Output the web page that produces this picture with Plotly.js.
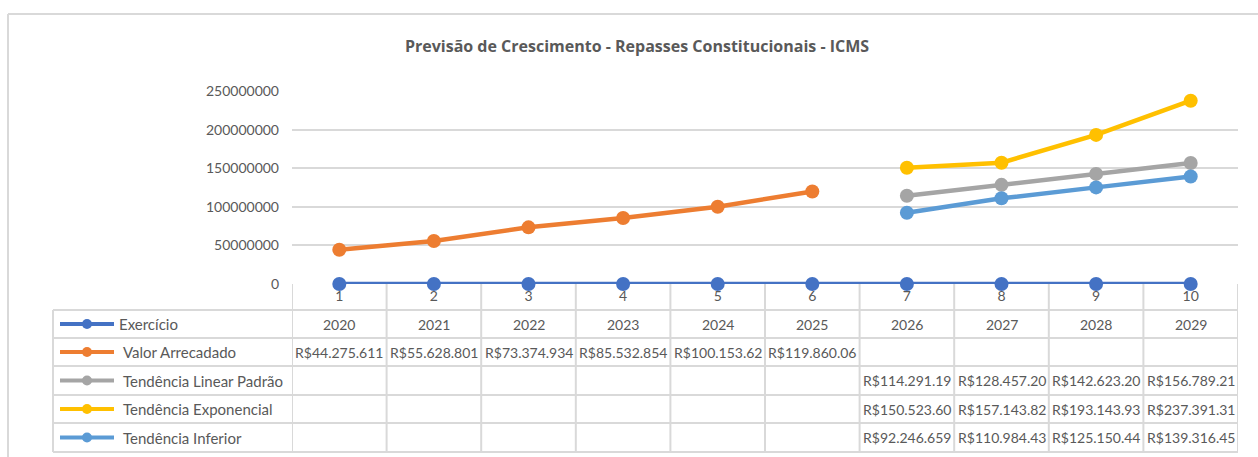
<!DOCTYPE html>
<html>
<head>
<meta charset="utf-8">
<script src="https://cdn.plot.ly/plotly-3.0.1.min.js"></script>
<style>html,body{margin:0;padding:0;background:#fff;}#chart{width:1258px;height:457px;}</style>
</head>
<body>
<div id="chart"></div>
<script>
// ---- data ----
const categories = [1, 2, 3, 4, 5, 6, 7, 8, 9, 10];
const exercicio = [2020, 2021, 2022, 2023, 2024, 2025, 2026, 2027, 2028, 2029];
const valorArrecadado = [44275611, 55628801, 73374934, 85532854, 100153620, 119860060, null, null, null, null];
const tendenciaLinear = [null, null, null, null, null, null, 114291190, 128457200, 142623200, 156789210];
const tendenciaExponencial = [null, null, null, null, null, null, 150523600, 157143820, 193143930, 237391310];
const tendenciaInferior = [null, null, null, null, null, null, 92246659, 110984430, 125150440, 139316450];
const seriesNames = ['Exercício', 'Valor Arrecadado', 'Tendência Linear Padrão', 'Tendência Exponencial', 'Tendência Inferior'];
const yTicks = [0, 50000000, 100000000, 150000000, 200000000, 250000000];
const titleText = 'Previsão de Crescimento - Repasses Constitucionais - ICMS';

// ---- styling ----
const colors = ['#4472C4', '#ED7D31', '#A5A5A5', '#FFC000', '#5B9BD5'];
const seriesData = [exercicio, valorArrecadado, tendenciaLinear, tendenciaExponencial, tendenciaInferior];
const FONT = 'Lato, "Open Sans", sans-serif';
const TXT = '#595959';
const GRID = '#D9D9D9';

const W = 1258, H = 457;
const PL = 292, PR = 1238, PT = 91, PB = 284;
const px2x = px => (px - PL) / (PR - PL);
const py2y = py => (PB - py) / (PB - PT);

function fmtCell(v, isYear) {
  if (v === null || v === undefined) return '';
  if (isYear) return String(v);
  const s = 'R$' + Math.round(v).toString().replace(/\B(?=(\d{3})+(?!\d))/g, '.');
  return s.slice(0, 12);
}

const traces = seriesData.map((d, i) => ({
  type: 'scatter', mode: 'lines+markers',
  x: categories, y: d, name: seriesNames[i],
  line: {color: colors[i], width: 4.5},
  marker: {color: colors[i], size: 14},
  cliponaxis: false, connectgaps: false, showlegend: false,
  hoverinfo: 'x+y'
}));

const shapes = [];
const annotations = [];

// outer chart border
shapes.push({type: 'line', xref: 'paper', yref: 'paper', x0: px2x(8), x1: px2x(8), y0: py2y(14), y1: py2y(460), line: {color: GRID, width: 2}});
shapes.push({type: 'line', xref: 'paper', yref: 'paper', x0: px2x(8), x1: px2x(1260), y0: py2y(14), y1: py2y(14), line: {color: GRID, width: 2}});

// table
const rowLines = [310, 338, 366, 395, 423, 452];
rowLines.forEach(py => {
  shapes.push({type: 'line', xref: 'paper', yref: 'paper', x0: px2x(53), x1: px2x(PR), y0: py2y(py), y1: py2y(py), line: {color: GRID, width: 2}});
});
shapes.push({type: 'line', xref: 'paper', yref: 'paper', x0: px2x(53), x1: px2x(53), y0: py2y(310), y1: py2y(452), line: {color: GRID, width: 2}});
for (let k = 0; k <= categories.length; k++) {
  const xb = categories[0] - 0.5 + k;
  shapes.push({type: 'line', xref: 'x', yref: 'paper', x0: xb, x1: xb, y0: py2y(284), y1: py2y(452), line: {color: GRID, width: 2}, layer: 'below'});
}

// rows
seriesData.forEach((d, r) => {
  const top = rowLines[r], bot = rowLines[r + 1];
  const cy = py2y((top + bot) / 2);
  // legend key
  shapes.push({type: 'line', xref: 'paper', yref: 'paper', x0: px2x(60), x1: px2x(114), y0: cy, y1: cy, line: {color: colors[r], width: 4}});
  shapes.push({type: 'circle', xref: 'paper', yref: 'paper', x0: px2x(82), x1: px2x(92), y0: cy + 5 / (PB - PT), y1: cy - 5 / (PB - PT), fillcolor: colors[r], line: {width: 0}});
  annotations.push({xref: 'paper', yref: 'paper', x: px2x(r === 0 ? 117 : 121), y: cy, xanchor: 'left', yanchor: 'middle',
    text: seriesNames[r], showarrow: false, font: {family: FONT, size: 15, color: TXT}});
  // cells
  d.forEach((v, c) => {
    const t = fmtCell(v, r === 0);
    if (!t) return;
    annotations.push({xref: 'x', yref: 'paper', x: categories[c], y: cy, xanchor: 'center', yanchor: 'middle',
      text: t, showarrow: false, font: {family: FONT, size: 14, color: TXT}});
  });
});

const layout = {
  width: W, height: H,
  margin: {l: PL, r: W - PR, t: PT, b: H - PB, pad: 0},
  paper_bgcolor: '#fff', plot_bgcolor: '#fff',
  font: {family: FONT, color: TXT, size: 14},
  title: {text: '<b>' + titleText + '</b>', x: 637 / W, xref: 'container', xanchor: 'center', y: 1 - 46 / H, yref: 'container', yanchor: 'middle',
    font: {family: '"Open Sans", Lato, sans-serif', size: 16, color: TXT}},
  xaxis: {range: [0.5, 10.5], tickvals: categories, ticktext: categories.map(String), showgrid: false, zeroline: false,
    showline: false, ticks: '', ticklabelstandoff: 2, tickfont: {family: FONT, size: 14, color: TXT}, fixedrange: true},
  yaxis: {range: [0, 250000000], tickvals: yTicks, ticktext: yTicks.map(String), showgrid: true, gridcolor: GRID, gridwidth: 2,
    zeroline: false, showline: false, ticks: '', ticklabelstandoff: 12, tickfont: {family: FONT, size: 14, color: TXT}, fixedrange: true},
  shapes: shapes,
  annotations: annotations,
  showlegend: false
};

Plotly.newPlot('chart', traces, layout, {displayModeBar: false, staticPlot: true});
</script>
</body>
</html>
